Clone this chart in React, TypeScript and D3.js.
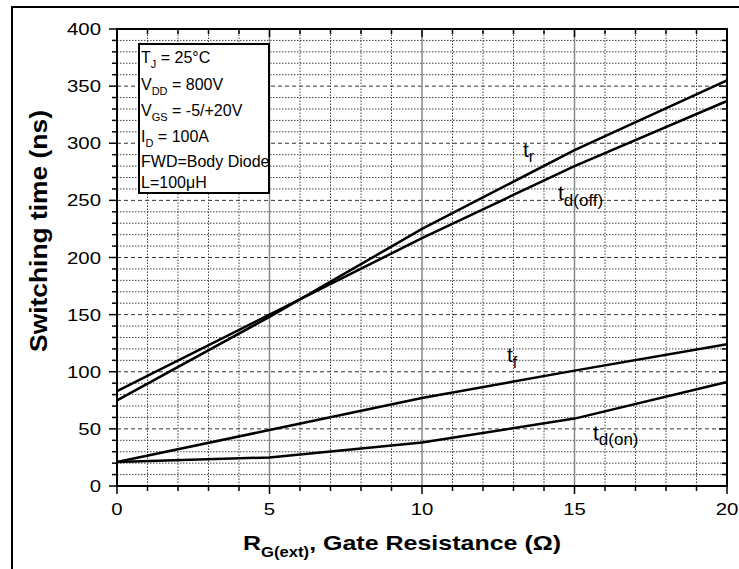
import React from "react";
import * as d3 from "d3";

const rg = [0, 5, 10, 15, 20];
const tR = [75, 148, 225, 294, 355];
const tDoff = [83, 150, 217, 280, 337];
const tF = [21, 49, 77, 101, 124];
const tDon = [21, 25, 38, 59, 91];
const xTicks = [0, 5, 10, 15, 20];
const yTicks = [0, 50, 100, 150, 200, 250, 300, 350, 400];

const W = 739;
const H = 569;
const FONT = "'Liberation Sans', Arial, sans-serif";

export default function App() {
  const x = d3.scaleLinear().domain([0, 20]).range([117, 727]);
  const y = d3.scaleLinear().domain([0, 400]).range([486, 29]);
  const line = d3
    .line<number>()
    .x((_, i) => x(rg[i]))
    .y((d) => y(d));

  const xMinor = d3.range(0, 21, 1);
  const yMinor = d3.range(0, 401, 10);
  const [x0, x1] = x.range();
  const [y0, y1] = y.range();

  return (
    <svg
      width={W}
      height={H}
      style={{ position: "absolute", left: 0, top: 0, background: "#fff" }}
      fontFamily={FONT}
    >
      <rect x={0} y={0} width={W} height={H} fill="#fff" />
      <rect x={12} y={7} width={740} height={580} fill="none" stroke="#000" strokeWidth={2} />

      {/* horizontal grid */}
      {yMinor
        .filter((v) => v > 0 && v < 400)
        .map((v) => (
          <line
            key={"hg" + v}
            x1={x0}
            x2={x1}
            y1={y(v)}
            y2={y(v)}
            stroke={v % 50 === 0 ? "#333" : "#444"}
            strokeWidth={1}
            strokeDasharray={v % 50 === 0 ? "4,3" : "1.5,1.5"}
          />
        ))}
      {/* vertical grid */}
      {xMinor
        .filter((v) => v > 0 && v < 20)
        .map((v) =>
          v % 5 === 0 ? (
            <line key={"vg" + v} x1={x(v)} x2={x(v)} y1={y0} y2={y1} stroke="#888" strokeWidth={1.5} />
          ) : (
            <line
              key={"vg" + v}
              x1={x(v)}
              x2={x(v)}
              y1={y0}
              y2={y1}
              stroke="#444"
              strokeWidth={1}
              strokeDasharray="1.5,1.5"
            />
          )
        )}

      {/* curves */}
      {[tR, tDoff, tF, tDon].map((s, i) => (
        <path key={"c" + i} d={line(s) || ""} fill="none" stroke="#000" strokeWidth={2.5} />
      ))}

      {/* axes frame */}
      <rect x={x0} y={y1} width={x1 - x0} height={y0 - y1} fill="none" stroke="#000" strokeWidth={2} />

      {/* left ticks outward, right ticks inward */}
      {yMinor.map((v) => {
        const len = v % 50 === 0 ? 8 : 5;
        return (
          <g key={"yt" + v}>
            <line x1={x0 - len} x2={x0} y1={y(v)} y2={y(v)} stroke="#000" strokeWidth={1.5} />
            <line x1={x1 - len} x2={x1} y1={y(v)} y2={y(v)} stroke="#000" strokeWidth={1.5} />
          </g>
        );
      })}
      {/* bottom ticks outward, top ticks inward */}
      {xMinor.map((v) => {
        const len = v % 5 === 0 ? 8 : 5;
        return (
          <g key={"xt" + v}>
            <line x1={x(v)} x2={x(v)} y1={y0} y2={y0 + len} stroke="#000" strokeWidth={1.5} />
            <line x1={x(v)} x2={x(v)} y1={y1} y2={y1 + len} stroke="#000" strokeWidth={1.5} />
          </g>
        );
      })}

      {/* tick labels */}
      {yTicks.map((v) => (
        <text
          key={"yl" + v}
          transform={`translate(${x0 - 16},${y(v) + 6}) scale(1.2,1)`}
          textAnchor="end"
          fontSize={17}
          fill="#000"
        >
          {v}
        </text>
      ))}
      {xTicks.map((v) => (
        <text
          key={"xl" + v}
          transform={`translate(${x(v)},${515}) scale(1.2,1)`}
          textAnchor="middle"
          fontSize={17}
          fill="#000"
        >
          {v}
        </text>
      ))}

      {/* axis titles */}
      <text
        transform={`translate(47,${231}) rotate(-90) scale(1.1,1)`}
        textAnchor="middle"
        fontSize={24}
        fontWeight="bold"
        fill="#000"
      >
        Switching time (ns)
      </text>
      <text transform="translate(243,550) scale(1.19,1)" fontSize={21} fontWeight="bold" fill="#000">
        R
        <tspan fontSize={14} dy={7}>
          G(ext)
        </tspan>
        <tspan dy={-7}>, Gate Resistance (Ω)</tspan>
      </text>

      {/* legend box */}
      <rect x={139} y={44} width={130} height={149} fill="#fff" stroke="#000" strokeWidth={2} />
      <g fontSize={16} fill="#000">
        <text x={141} y={63}>
          T<tspan fontSize={11} dy={5}>J</tspan>
          <tspan dy={-5}> = 25°C</tspan>
        </text>
        <text x={141} y={90}>
          V<tspan fontSize={11} dy={5}>DD</tspan>
          <tspan dy={-5}> = 800V</tspan>
        </text>
        <text x={141} y={116}>
          V<tspan fontSize={11} dy={5}>GS</tspan>
          <tspan dy={-5}> = -5/+20V</tspan>
        </text>
        <text x={141} y={142}>
          I<tspan fontSize={11} dy={5}>D</tspan>
          <tspan dy={-5}> = 100A</tspan>
        </text>
        <text x={141} y={167}>FWD=Body Diode</text>
        <text x={141} y={188}>L=100μH</text>
      </g>

      {/* curve labels */}
      <g fill="#000">
        <text x={523} y={157} fontSize={21}>
          t<tspan fontSize={16} dy={5}>r</tspan>
        </text>
        <text x={558} y={200} fontSize={21}>
          t<tspan fontSize={17} dy={6}>d(off)</tspan>
        </text>
        <text x={507} y={362} fontSize={21}>
          t<tspan fontSize={16} dy={6}>f</tspan>
        </text>
        <text x={593} y={440} fontSize={21}>
          t<tspan fontSize={17} dy={5}>d(on)</tspan>
        </text>
      </g>
    </svg>
  );
}
